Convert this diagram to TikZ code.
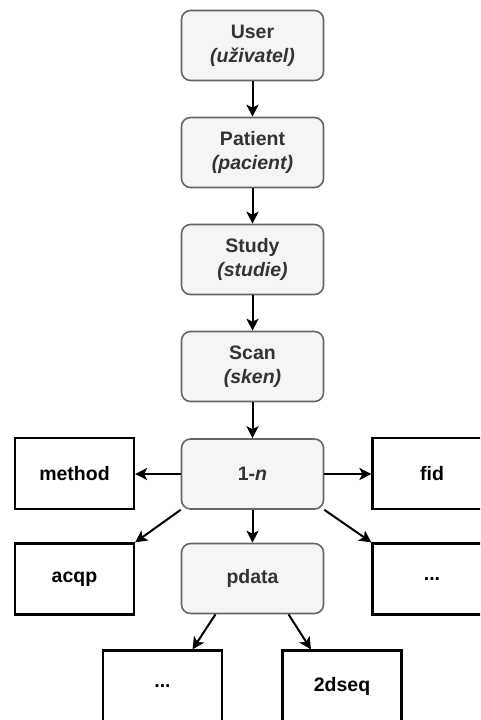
\documentclass[tikz,border=0pt]{standalone}
\usepackage{fontspec}
\setmainfont{Liberation Sans}
\usetikzlibrary{arrows.meta}
\definecolor{boxfill}{HTML}{F5F5F5}
\definecolor{boxline}{HTML}{666666}
\definecolor{boxtext}{HTML}{333333}
\begin{document}
\begin{tikzpicture}[x=1pt,y=-1pt,
  graybox/.style={draw=boxline, fill=boxfill, rounded corners=9pt, line width=1.6pt,
    minimum width=142pt, minimum height=70pt, text=boxtext, align=center,
    font=\fontsize{19.5}{24}\selectfont\bfseries, inner sep=0pt},
  whitebox/.style={draw=black, fill=white, line width=2.2pt,
    minimum width=119pt, minimum height=71pt, text=black, align=center,
    font=\fontsize{19.5}{24}\selectfont\bfseries, inner sep=0pt},
  arr/.style={line width=2pt, -{Stealth[length=12pt,width=12pt,inset=3pt]}}
]
\useasboundingbox (0,0) rectangle (480,720);
\clip (0,0) rectangle (480,720);
\node[graybox] (user) at (252.5,45.5) {User\\\textit{(uživatel)}};
\node[graybox] (patient) at (252.5,152.5) {Patient\\\textit{(pacient)}};
\node[graybox] (study) at (252.5,259.5) {Study\\\textit{(studie)}};
\node[graybox] (scan) at (252.5,366.5) {Scan\\\textit{(sken)}};
\node[graybox] (n) at (252.5,474) {1-\textit{n}};
\node[graybox] (pdata) at (252.5,578.5) {pdata};
\node[whitebox] (method) at (74.5,473.5) {method};
\node[whitebox] (acqp) at (74.5,579) {acqp};
\node[whitebox] (fid) at (432,473.5) {fid};
\node[whitebox] (dotsr) at (432,579) {...};
\node[whitebox] (dotsb) at (162.5,686) {...};
\node[whitebox] (seq) at (342,686) {2dseq};
\draw[arr] (user) -- (patient);
\draw[arr] (patient) -- (study);
\draw[arr] (study) -- (scan);
\draw[arr] (scan) -- (n);
\draw[arr] (n) -- (pdata);
\draw[arr] (n.west) -- (n.west -| method.east);
\draw[arr] (n.east) -- (n.east -| fid.west);
\draw[arr] (n.south west) -- (acqp.north east);
\draw[arr] (n.south east) -- (dotsr.north west);
\draw[arr] ([xshift=-37pt]pdata.south) -- ([xshift=30pt]dotsb.north);
\draw[arr] ([xshift=36pt]pdata.south) -- ([xshift=-31pt]seq.north);
\end{tikzpicture}
\end{document}
